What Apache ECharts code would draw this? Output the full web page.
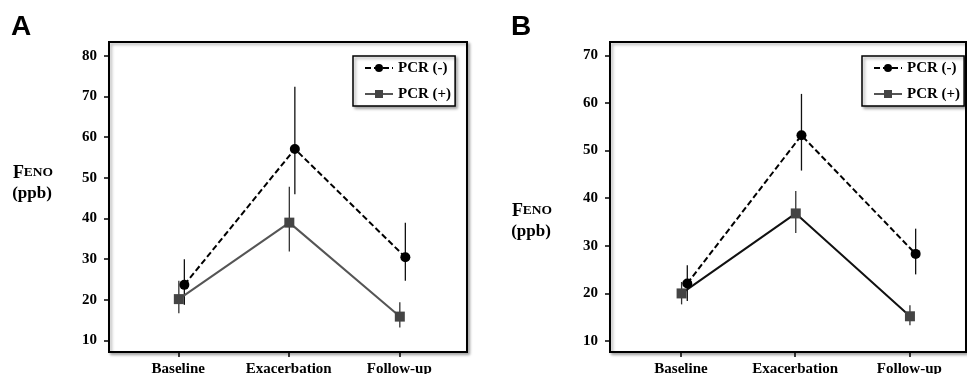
<!DOCTYPE html>
<html>
<head>
<meta charset="utf-8">
<script src="https://cdn.jsdelivr.net/npm/echarts@6/dist/echarts.min.js"></script>
<style>html,body{margin:0;padding:0;background:#fff;}#c{width:967px;height:374px;}</style>
</head>
<body>
<div id="c"></div>
<script>
const categories = ['Baseline', 'Exacerbation', 'Follow-up'];
const seriesNames = ['PCR (-)', 'PCR (+)'];
const yTicksA = [10, 20, 30, 40, 50, 60, 70, 80];
const yTicksB = [10, 20, 30, 40, 50, 60, 70];
// Panel A
const aNegMean = [23.7, 57.1, 30.5];
const aNegLow  = [18.8, 46.0, 24.7];
const aNegHigh = [30.0, 72.4, 39.0];
const aPosMean = [20.2, 39.0, 15.9];
const aPosLow  = [16.7, 31.9, 13.2];
const aPosHigh = [24.7, 47.8, 19.4];
// Panel B
const bNegMean = [22.1, 53.2, 28.3];
const bNegLow  = [18.4, 45.8, 24.0];
const bNegHigh = [25.9, 61.9, 33.6];
const bPosMean = [20.0, 36.8, 15.2];
const bPosLow  = [17.7, 32.7, 13.3];
const bPosHigh = [22.4, 41.5, 17.5];

const NEG_OFF = 0.055, POS_OFF = 0.005;
const serif = 'Liberation Serif';

function pts(mean, off) { return mean.map((v, i) => [i + off, v]); }
function errs(low, high, off) { return low.map((v, i) => [i + off, v, high[i]]); }

function errSeries(name, idx, low, high, off, color) {
  return {
    type: 'custom', name: name, xAxisIndex: idx, yAxisIndex: idx, z: 1,
    data: errs(low, high, off),
    encode: { x: 0, y: [1, 2] },
    renderItem: function (params, api) {
      const p1 = api.coord([api.value(0), api.value(1)]);
      const p2 = api.coord([api.value(0), api.value(2)]);
      return { type: 'line', shape: { x1: p1[0], y1: p1[1], x2: p2[0], y2: p2[1] },
               style: { stroke: color, lineWidth: 1.3 } };
    }
  };
}
function negLine(idx, mean) {
  return { type: 'line', name: seriesNames[0], xAxisIndex: idx, yAxisIndex: idx, z: 3,
    data: pts(mean, NEG_OFF), symbol: 'circle', symbolSize: 10,
    itemStyle: { color: '#000' },
    lineStyle: { color: '#000', width: 2, type: [6, 3] } };
}
function posLine(idx, mean, lineColor) {
  return { type: 'line', name: seriesNames[1], xAxisIndex: idx, yAxisIndex: idx, z: 3,
    data: pts(mean, POS_OFF), symbol: 'rect', symbolSize: 10,
    itemStyle: { color: '#444' },
    lineStyle: { color: lineColor, width: 2, type: 'solid' } };
}
function xAxis(idx, min, max) {
  return { type: 'value', gridIndex: idx, min: min, max: max,
    axisLine: { show: true, onZero: false, lineStyle: { color: '#000', width: 2 } },
    axisTick: { show: true, inside: false, length: 5, lineStyle: { color: '#000', width: 1.5 }, customValues: [0, 1, 2] },
    axisLabel: { customValues: [0, 1, 2], formatter: v => categories[Math.round(v)], margin: 10,
      fontFamily: serif, fontWeight: 'bold', fontSize: 15, color: '#000' },
    splitLine: { show: false } };
}
function yAxis(idx, min, max, ticks) {
  return { type: 'value', gridIndex: idx, min: min, max: max,
    axisLine: { show: true, onZero: false, lineStyle: { color: '#000', width: 2 } },
    axisTick: { show: true, inside: false, length: 5, lineStyle: { color: '#000', width: 1.5 }, customValues: ticks },
    axisLabel: { customValues: ticks, margin: 12,
      fontFamily: serif, fontWeight: 'bold', fontSize: 15, color: '#000' },
    splitLine: { show: false } };
}
function legend(left) {
  return { orient: 'vertical', left: left, top: 56, data: seriesNames,
    itemWidth: 28, itemHeight: 10, itemGap: 10, padding: [4, 4, 4, 11],
    backgroundColor: '#fff', borderColor: '#000', borderWidth: 1.5,
    shadowBlur: 3, shadowColor: 'rgba(0,0,0,0.35)', shadowOffsetX: 2, shadowOffsetY: 2,
    textStyle: { fontFamily: serif, fontWeight: 'bold', fontSize: 15, color: '#000', lineHeight: 16 },
    selectedMode: false };
}
function fenoLabel(cx, cy) {
  return [
    { type: 'text', x: cx, y: cy, style: { text: '{a|F}{b|ENO}', align: 'center', verticalAlign: 'middle',
      rich: { a: { fontFamily: serif, fontWeight: 'bold', fontSize: 18, fill: '#000' },
              b: { fontFamily: serif, fontWeight: 'bold', fontSize: 13.5, fill: '#000' } } } },
    { type: 'text', x: cx - 1, y: cy + 21, style: { text: '(ppb)', align: 'center', verticalAlign: 'middle',
      font: 'bold 17px "Liberation Serif"', fill: '#000' } }
  ];
}

const chart = echarts.init(document.getElementById('c'));
chart.setOption({
  animation: false,
  backgroundColor: '#fff',
  grid: [
    { left: 109, top: 42, width: 358, height: 310, show: true, backgroundColor: '#fff', outerBoundsMode: 'none', containLabel: false,
      borderColor: '#000', borderWidth: 2, shadowBlur: 3, shadowColor: 'rgba(0,0,0,0.3)', shadowOffsetX: 2, shadowOffsetY: 2 },
    { left: 610, top: 42, width: 356, height: 310, show: true, backgroundColor: '#fff', outerBoundsMode: 'none', containLabel: false,
      borderColor: '#000', borderWidth: 2, shadowBlur: 3, shadowColor: 'rgba(0,0,0,0.3)', shadowOffsetX: 2, shadowOffsetY: 2 }
  ],
  xAxis: [xAxis(0, -0.627, 2.613), xAxis(1, -0.622, 2.496)],
  yAxis: [yAxis(0, 7.2, 83.4, yTicksA), yAxis(1, 7.7, 72.8, yTicksB)],
  legend: [legend(353), legend(862)],
  series: [
    errSeries('errA1', 0, aNegLow, aNegHigh, NEG_OFF, '#111'),
    errSeries('errA2', 0, aPosLow, aPosHigh, POS_OFF, '#333'),
    negLine(0, aNegMean),
    posLine(0, aPosMean, '#555'),
    errSeries('errB1', 1, bNegLow, bNegHigh, NEG_OFF, '#111'),
    errSeries('errB2', 1, bPosLow, bPosHigh, POS_OFF, '#333'),
    negLine(1, bNegMean),
    posLine(1, bPosMean, '#111')
  ],
  graphic: [
    { type: 'text', x: 11, y: 27, style: { text: 'A', verticalAlign: 'middle', font: 'bold 28px "Liberation Sans"', fill: '#000' } },
    { type: 'text', x: 511, y: 27, style: { text: 'B', verticalAlign: 'middle', font: 'bold 28px "Liberation Sans"', fill: '#000' } },
    ...fenoLabel(33, 173),
    ...fenoLabel(532, 211)
  ]
});
</script>
</body>
</html>
